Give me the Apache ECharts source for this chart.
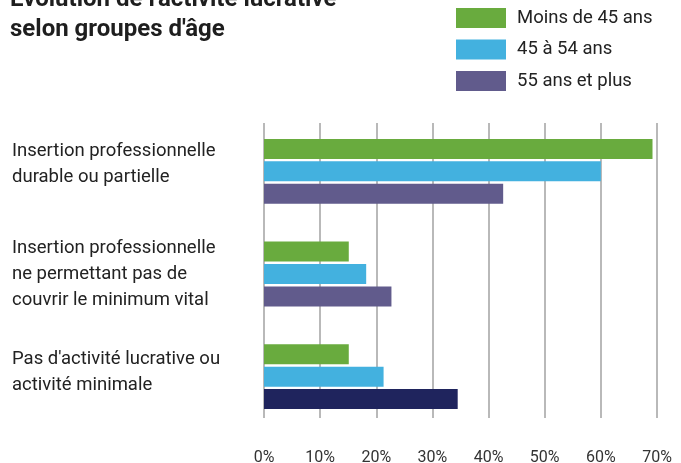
<!DOCTYPE html>
<html>
<head>
<meta charset="utf-8">
<script src="https://cdn.jsdelivr.net/npm/echarts@6/dist/echarts.min.js"></script>
<style>
html,body{margin:0;padding:0;background:#fff;}
#chart{width:681px;height:463px;}
</style>
</head>
<body>
<div id="chart"></div>
<script>
const titleText = "Évolution de l'activité lucrative\nselon groupes d'âge";
const categories = [
  "Insertion professionnelle\ndurable ou partielle",
  "Insertion professionnelle\nne permettant pas de\ncouvrir le minimum vital",
  "Pas d'activité lucrative ou\nactivité minimale"
];
const seriesNames = ["Moins de 45 ans", "45 à 54 ans", "55 ans et plus"];
const under45 = [69.2, 15.1, 15.1];
const from45to54 = [60.0, 18.2, 21.3];
const over55 = [42.6, 22.7, 34.5];
const xTicks = [0, 10, 20, 30, 40, 50, 60, 70];

const FONT = "Roboto";
const colors = ["#69ab3e", "#43b1df", "#615b8c"];
const navy = "#1f245d";
const labelLift = [7, 0, 4];

const over55Data = over55.map((v, i) => i === 2 ? { value: v, itemStyle: { color: navy } } : v);

const chart = echarts.init(document.getElementById('chart'), null, { renderer: 'canvas' });
chart.setOption({
  animation: false,
  backgroundColor: '#ffffff',
  title: {
    text: titleText,
    left: 10,
    top: -15,
    padding: 0,
    textStyle: { fontFamily: FONT, fontWeight: 'bold', fontSize: 24, lineHeight: 30, color: '#1e1e1e' }
  },
  legend: {
    orient: 'vertical',
    left: 456,
    top: 8,
    padding: 0,
    itemWidth: 50,
    itemHeight: 20,
    itemGap: 11.5,
    icon: 'rect',
    data: seriesNames,
    textStyle: { fontFamily: FONT, fontSize: 18.5, color: '#222', padding: [0, 0, 0, 6] }
  },
  grid: [
    { left: 264, right: 24, top: 120, bottom: 35, containLabel: false, outerBoundsMode: 'none' },
    { left: 264, right: 24, top: 123, bottom: 45, containLabel: false, outerBoundsMode: 'none' }
  ],
  xAxis: [
    { gridIndex: 0, type: 'value', min: xTicks[0], max: xTicks[xTicks.length - 1], interval: 10, show: false },
    {
      gridIndex: 1, type: 'value', min: xTicks[0], max: xTicks[xTicks.length - 1], interval: 10,
      axisLine: { show: false }, axisTick: { show: false },
      splitLine: { show: true, lineStyle: { color: '#a8a8a8', width: 1.6 } },
      axisLabel: { formatter: '{value}%', fontFamily: FONT, fontSize: 16, color: '#333', margin: 32 }
    }
  ],
  yAxis: [
    {
      gridIndex: 0, type: 'category', data: categories, inverse: true,
      axisLine: { show: false }, axisTick: { show: false }, splitLine: { show: false },
      axisLabel: {
        align: 'left', margin: 252, fontFamily: FONT, fontSize: 18.5, lineHeight: 26, color: '#222',
        formatter: function (value, index) {
          const lines = value.split('\n').map(l => '{t|' + l + '}').join('\n');
          const lift = labelLift[index] || 0;
          return lift ? lines + '\n{s' + index + '| }' : lines;
        },
        rich: {
          t: { fontFamily: FONT, fontSize: 18.5, lineHeight: 26, color: '#222', align: 'left' },
          s0: { fontSize: 1, lineHeight: 2 * labelLift[0] },
          s1: { fontSize: 1, lineHeight: 2 * labelLift[1] || 1 },
          s2: { fontSize: 1, lineHeight: 2 * labelLift[2] }
        }
      }
    },
    { gridIndex: 1, type: 'category', data: categories, show: false }
  ],
  series: [
    { name: seriesNames[0], type: 'bar', xAxisIndex: 0, yAxisIndex: 0, data: under45, barWidth: 20, barGap: '12%', itemStyle: { color: colors[0] } },
    { name: seriesNames[1], type: 'bar', xAxisIndex: 0, yAxisIndex: 0, data: from45to54, barWidth: 20, barGap: '12%', itemStyle: { color: colors[1] } },
    { name: seriesNames[2], type: 'bar', xAxisIndex: 0, yAxisIndex: 0, data: over55Data, barWidth: 20, barGap: '12%', itemStyle: { color: colors[2] } }
  ]
});
</script>
</body>
</html>
